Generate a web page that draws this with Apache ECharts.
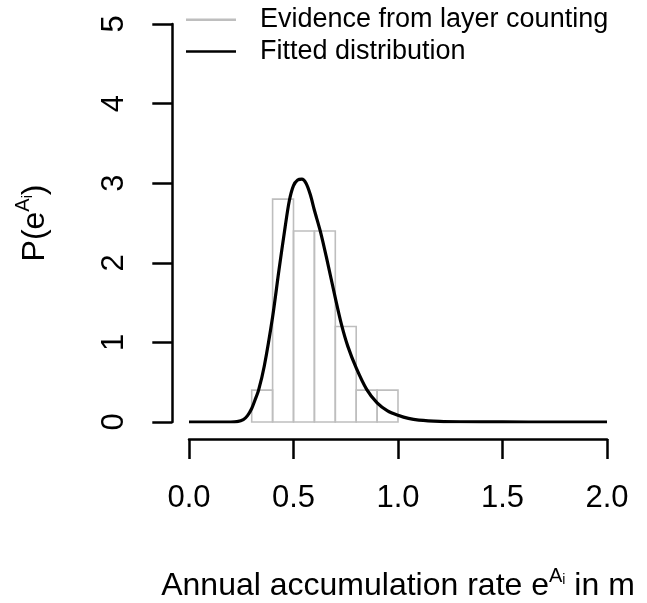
<!DOCTYPE html>
<html><head><meta charset="utf-8">
<script src="https://cdn.jsdelivr.net/npm/echarts@6/dist/echarts.min.js"></script>
<style>html,body{margin:0;padding:0;background:#fff}#c{width:647px;height:603px}</style>
</head><body><div id="c"></div>
<script>
// Histogram: bin edges and densities (evidence from layer counting)
const binEdges = [0.3, 0.4, 0.5, 0.6, 0.7, 0.8, 0.9, 1.0];
const binHeights = [0.4, 2.8, 2.4, 2.4, 1.2, 0.4, 0.4];

// Fitted distribution
const curveX = [0, 0.1, 0.2, 0.23, 0.26, 0.28, 0.3, 0.315, 0.333, 0.36, 0.4, 0.43, 0.46, 0.48, 0.5, 0.52, 0.54, 0.56, 0.58, 0.6, 0.63, 0.66, 0.7, 0.73, 0.76, 0.8, 0.85, 0.9, 0.95, 1.0, 1.05, 1.1, 1.2, 1.3, 1.5, 1.75, 2.0];
const curveY = [0, 0, 0, 0.005, 0.03, 0.08, 0.17, 0.27, 0.4, 0.7, 1.32, 1.9, 2.45, 2.78, 2.97, 3.04, 3.05, 3.0, 2.86, 2.66, 2.38, 2.04, 1.56, 1.22, 0.95, 0.68, 0.41, 0.24, 0.14, 0.085, 0.045, 0.024, 0.008, 0.003, 0.001, 0, 0];

const xTickLabels = ['0.0', '0.5', '1.0', '1.5', '2.0'];
const yTickLabels = ['0', '1', '2', '3', '4', '5'];

const seriesNames = ['Evidence from layer counting', 'Fitted distribution'];

const FONT = 'Liberation Sans, Arial, Helvetica, sans-serif';
const histData = binHeights.map((h, i) => [binEdges[i], binEdges[i + 1], h]);
const lineData = curveX.map((x, i) => [x, curveY[i]]);

function rich(supPad, subPad) {
  return {
    t: { fontSize: 32, lineHeight: 32, padding: [10, 0, 0, 0], verticalAlign: 'top', fontFamily: FONT, color: '#000' },
    sup: { fontSize: 20, lineHeight: 20, padding: [supPad, 0, 0, 0], verticalAlign: 'top', fontFamily: FONT, color: '#000' },
    sub: { fontSize: 14, lineHeight: 14, padding: [subPad, 0, 0, 0], verticalAlign: 'top', fontFamily: FONT, color: '#000' }
  };
}

const chart = echarts.init(document.getElementById('c'));
chart.setOption({
  animation: false,
  backgroundColor: '#fff',
  grid: { left: 189, right: 40, top: 24, bottom: 181, containLabel: false, outerBoundsMode: 'none' },
  legend: {
    orient: 'vertical', left: 186, top: 4, padding: 0, itemGap: 0,
    itemWidth: 50, itemHeight: 2.5,
    textStyle: { fontSize: 27, lineHeight: 31.7, fontFamily: FONT, color: '#000', padding: [0, 0, 0, 19] },
    data: [
      { name: seriesNames[0], icon: 'rect', itemStyle: { color: '#bebebe' } },
      { name: seriesNames[1], icon: 'rect', itemStyle: { color: '#000' } }
    ]
  },
  xAxis: {
    type: 'value', min: 0, max: 2, interval: 0.5, offset: 17,
    axisLine: { show: true, onZero: false, lineStyle: { color: '#000', width: 2.5 } },
    axisTick: { show: true, length: 20, lineStyle: { color: '#000', width: 2.5 } },
    splitLine: { show: false },
    axisLabel: {
      margin: 44, fontSize: 31, fontFamily: FONT, color: '#000',
      formatter: v => xTickLabels[Math.round(v / 0.5)]
    },
    name: '{t|Annual accumulation rate e}{sup|A}{sub|i}{t| in m}',
    nameLocation: 'middle', nameGap: 121,
    nameTextStyle: { rich: rich(6, 13) }
  },
  yAxis: {
    type: 'value', min: 0, max: 5, interval: 1, offset: 16.7,
    axisLine: { show: true, onZero: false, lineStyle: { color: '#000', width: 2.5 } },
    axisTick: { show: true, length: 20, lineStyle: { color: '#000', width: 2.5 } },
    splitLine: { show: false },
    axisLabel: {
      margin: 42, fontSize: 31, fontFamily: FONT, color: '#000', rotate: 90,
      formatter: v => yTickLabels[Math.round(v)]
    },
    name: '{t|P(e}{sup|A}{sub|i}{t|)}',
    nameLocation: 'middle', nameGap: 131,
    nameTextStyle: { rich: rich(4, 12) }
  },
  series: [
    {
      name: seriesNames[0], type: 'custom', data: histData,
      encode: { x: [0, 1], y: 2 },
      itemStyle: { color: '#bebebe' },
      renderItem: (params, api) => {
        const p0 = api.coord([api.value(0), api.value(2)]);
        const p1 = api.coord([api.value(1), 0]);
        return {
          type: 'rect',
          shape: { x: p0[0], y: p0[1], width: p1[0] - p0[0], height: p1[1] - p0[1] },
          style: { fill: 'none', stroke: '#bebebe', lineWidth: 1.6 }
        };
      },
      z: 2
    },
    {
      name: seriesNames[1], type: 'line', data: lineData,
      showSymbol: false, smooth: 0.3,
      lineStyle: { color: '#000', width: 3.2 },
      itemStyle: { color: '#000' },
      z: 3
    }
  ]
});
</script></body></html>
